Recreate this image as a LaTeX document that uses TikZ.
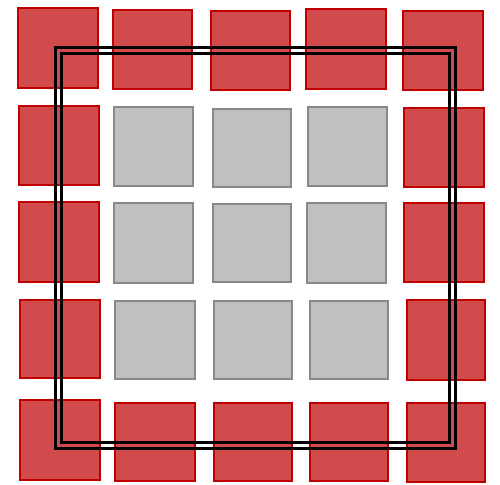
\documentclass[tikz,border=0pt]{standalone}
\definecolor{redfill}{RGB}{209,74,76}
\definecolor{redline}{RGB}{192,0,0}
\definecolor{grayfill}{RGB}{192,192,192}
\definecolor{grayline}{RGB}{136,136,136}
\tikzset{
  redsq/.style={fill=redfill, draw=redline, line width=2.5pt},
  graysq/.style={fill=grayfill, draw=grayline, line width=2.5pt},
  frameline/.style={draw=black, line width=3pt}
}
\begin{document}
\begin{tikzpicture}[x=1pt,y=-1pt]
\useasboundingbox (0,0) rectangle (500,484);
% row 0
\draw[redsq] (18,8) rectangle (98,88);
\draw[redsq] (113,10) rectangle (192,89);
\draw[redsq] (211,11) rectangle (290,90);
\draw[redsq] (306,9) rectangle (386,89);
\draw[redsq] (403,11) rectangle (483,90);
% row 1
\draw[redsq] (19,106) rectangle (99,185);
\draw[graysq] (114,107) rectangle (193,186);
\draw[graysq] (213,109) rectangle (291,187);
\draw[graysq] (308,107) rectangle (387,186);
\draw[redsq] (404,108) rectangle (484,187);
% row 2
\draw[redsq] (19,202) rectangle (99,282);
\draw[graysq] (114,203) rectangle (193,283);
\draw[graysq] (213,204) rectangle (291,282);
\draw[graysq] (307,203) rectangle (386,283);
\draw[redsq] (404,203) rectangle (484,282);
% row 3
\draw[redsq] (20,300) rectangle (100,378);
\draw[graysq] (115,301) rectangle (195,379);
\draw[graysq] (214,301) rectangle (292,379);
\draw[graysq] (310,301) rectangle (388,379);
\draw[redsq] (407,300) rectangle (485,380);
% row 4
\draw[redsq] (20,400) rectangle (100,480);
\draw[redsq] (115,403) rectangle (195,481);
\draw[redsq] (214,403) rectangle (292,481);
\draw[redsq] (310,403) rectangle (388,481);
\draw[redsq] (407,403) rectangle (485,482);
% double frame
\draw[frameline] (55,48) rectangle (455,448);
\draw[frameline] (61,54) rectangle (449,442);
\end{tikzpicture}
\end{document}
